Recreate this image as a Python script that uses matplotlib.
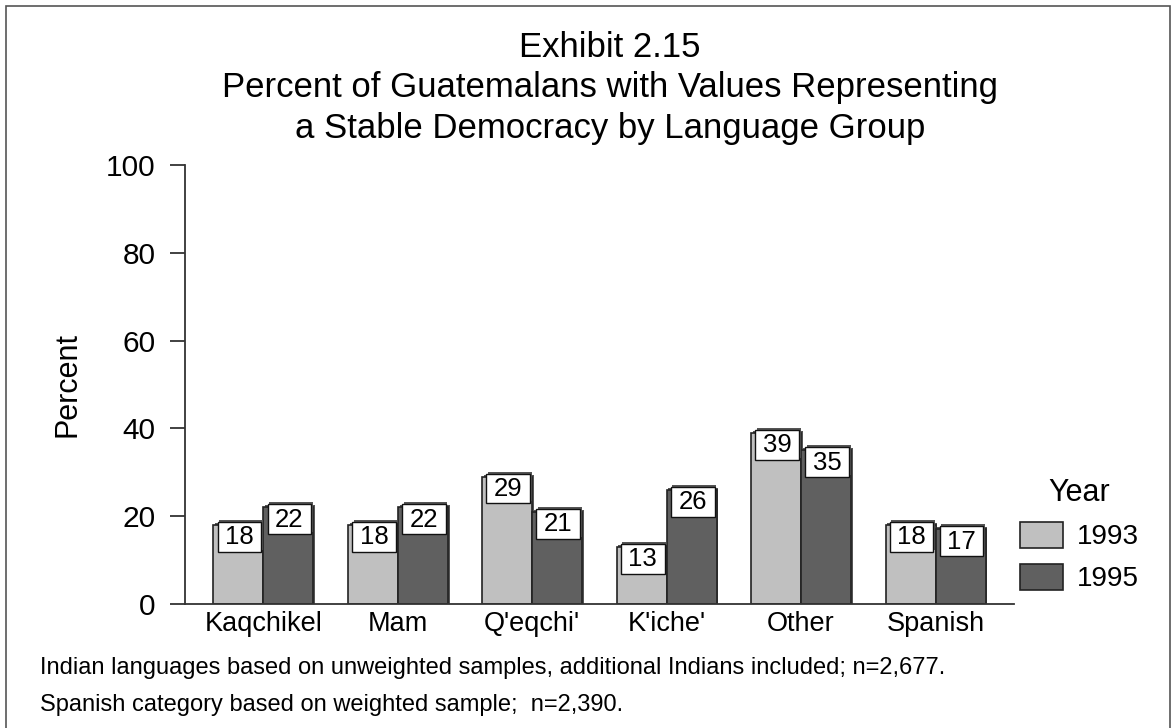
import numpy as np
import matplotlib.pyplot as plt
from matplotlib.patches import Rectangle

groups = ["Kaqchikel", "Mam", "Q'eqchi'", "K'iche'", "Other", "Spanish"]
years = ["1993", "1995"]
vals_1993 = [18, 18, 29, 13, 39, 18]
vals_1995 = [22, 22, 21, 26, 35, 17]
y_ticks = [0, 20, 40, 60, 80, 100]

title = ("Exhibit 2.15\nPercent of Guatemalans with Values Representing\n"
         "a Stable Democracy by Language Group")
notes = ["Indian languages based on unweighted samples, additional Indians included; n=2,677.",
         "Spanish category based on weighted sample;  n=2,390."]

plt.rcParams['font.family'] = ['Liberation Sans', 'DejaVu Sans']

W, H = 1172, 728
fig = plt.figure(figsize=(W / 100, H / 100), dpi=100)
ax = fig.add_axes([185 / W, 1 - 604 / H, (1014 - 185) / W, (604 - 165) / H])

colors = ["#c0c0c0", "#606060"]
bw = 0.372
x = np.arange(len(groups))
handles = []
for i, (vals, col) in enumerate(zip([vals_1993, vals_1995], colors)):
    xs = x + (i - 0.5) * bw
    v = np.array(vals, dtype=float)
    # slight 3d shadow behind each bar
    ax.bar(xs + 0.012, v + 0.45, bw, color="#555555", edgecolor="none", zorder=1)
    b = ax.bar(xs, v, bw, color=col, edgecolor="#222222", linewidth=1.2, zorder=2,
               label=years[i])
    handles.append(b)
    for xc, val in zip(xs, v):
        x0 = xc - bw / 2 + 0.03
        w = bw - 0.045
        top = val + 0.7
        ax.add_patch(Rectangle((x0 + 0.012, top - 6.8 + 0.45), w, 6.8,
                               facecolor="#555555", edgecolor="none", zorder=3))
        ax.add_patch(Rectangle((x0, top - 6.8), w, 6.8, facecolor="white",
                               edgecolor="#111111", linewidth=1.0, zorder=4))
        ax.text(x0 + w / 2, top - 3.5, f"{int(val)}", ha="center", va="center",
                fontsize=18.5, zorder=5)

ax.set_xlim(-0.584, len(groups) - 1 + 0.584)
ax.set_ylim(0, 100)
ax.set_yticks(y_ticks)
ax.set_yticklabels([str(t) for t in y_ticks], fontsize=21.5)
ax.set_xticks(x)
ax.set_xticklabels(groups, fontsize=19.5)
ax.tick_params(axis="x", length=0, pad=5)
ax.tick_params(axis="y", length=11, width=1.3, color="#333333", pad=10)
for s in ["top", "right"]:
    ax.spines[s].set_visible(False)
for s in ["left", "bottom"]:
    ax.spines[s].set_color("#333333")
    ax.spines[s].set_linewidth(1.3)
ax.set_ylabel("Percent", fontsize=22, labelpad=17)

fig.text(610 / W, 1 - 88 / H, title, ha="center", va="center", fontsize=25,
         linespacing=1.3)
fig.text(40 / W, 1 - 668 / H, notes[0], ha="left", va="center", fontsize=17)
fig.text(40 / W, 1 - 705 / H, notes[1], ha="left", va="center", fontsize=17)

leg = fig.legend(handles=handles, labels=years, loc="upper left",
                 bbox_to_anchor=(995 / W, 1 - 453 / H), frameon=False,
                 title="Year", title_fontsize=22, fontsize=20,
                 handlelength=1.55, handleheight=1.05, handletextpad=0.5,
                 labelspacing=0.5)

fig.add_artist(Rectangle((6 / W, -0.01), (1170 - 6) / W, 1.01 - 6 / H,
                         transform=fig.transFigure, fill=False,
                         edgecolor="#555555", linewidth=1.2))

fig.savefig("out.png", dpi=100)
